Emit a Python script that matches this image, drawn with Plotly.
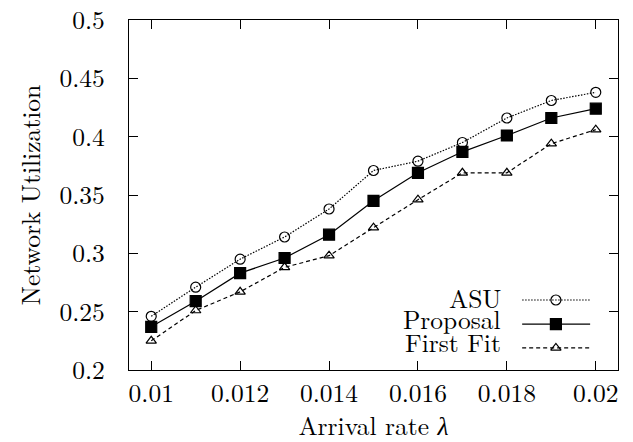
import plotly.graph_objects as go

# Arrival rate (x) and network utilization of each scheme
arrival_rate = [0.010, 0.011, 0.012, 0.013, 0.014, 0.015, 0.016, 0.017, 0.018, 0.019, 0.020]
asu = [0.246, 0.271, 0.295, 0.314, 0.338, 0.371, 0.379, 0.395, 0.416, 0.431, 0.438]
proposal = [0.237, 0.259, 0.283, 0.296, 0.316, 0.345, 0.369, 0.387, 0.401, 0.416, 0.424]
first_fit = [0.225, 0.251, 0.267, 0.288, 0.298, 0.322, 0.346, 0.369, 0.369, 0.394, 0.406]

x_ticks = [0.010, 0.012, 0.014, 0.016, 0.018, 0.020]
x_tick_labels = ["0.01", "0.012", "0.014", "0.016", "0.018", "0.02"]
y_ticks = [0.20, 0.25, 0.30, 0.35, 0.40, 0.45, 0.50]
y_tick_labels = ["0.2", "0.25", "0.3", "0.35", "0.4", "0.45", "0.5"]

series_names = ["ASU", "Proposal", "First Fit"]

FONT = "Latin Modern Roman"
FS = 25.5

styles = [
    dict(dash="1.5px,1.5px", symbol="circle-open", size=10),
    dict(dash="solid", symbol="square", size=11),
    dict(dash="4px,3px", symbol="triangle-up-open", size=9),
]

fig = go.Figure()
for name, ys, st in zip(series_names, [asu, proposal, first_fit], styles):
    fig.add_trace(go.Scatter(
        x=arrival_rate, y=ys, mode="lines+markers", name=name,
        line=dict(color="black", width=1.2, dash=st["dash"]),
        marker=dict(symbol=st["symbol"], size=st["size"], color="black",
                    line=dict(color="black", width=1.2)),
        showlegend=False,
    ))

# Key samples drawn on an overlay axis spanning the plot area (0..1 both ways)
key_rows_y = [0.200, 0.131, 0.063]
key_line_x = [0.804, 0.943]
key_marker_x = 0.873
key_text_x = 0.765
key_text_y = [0.210, 0.150, 0.083]
for name, st, ky, ty in zip(series_names, styles, key_rows_y, key_text_y):
    fig.add_trace(go.Scatter(
        x=key_line_x, y=[ky, ky], mode="lines", xaxis="x2", yaxis="y2",
        line=dict(color="black", width=1.2, dash=st["dash"]), showlegend=False,
        hoverinfo="skip",
    ))
    fig.add_trace(go.Scatter(
        x=[key_marker_x], y=[ky], mode="markers", xaxis="x2", yaxis="y2",
        marker=dict(symbol=st["symbol"], size=st["size"], color="black",
                    line=dict(color="black", width=1.2)),
        showlegend=False, hoverinfo="skip",
    ))
    fig.add_annotation(
        x=key_text_x, y=ty, xref="x2", yref="y2", text=name, showarrow=False,
        xanchor="right", yanchor="middle", font=dict(family=FONT, size=FS, color="black"),
    )

axis_common = dict(
    showline=True, linecolor="black", linewidth=1.2, mirror="ticks",
    ticks="inside", ticklen=9, tickwidth=1, tickcolor="black",
    showgrid=False, zeroline=False, automargin=False,
    ticklabeloverflow="allow",
    tickfont=dict(family=FONT, size=FS, color="black"),
)

fig.update_layout(
    width=633, height=442,
    margin=dict(l=129, r=15, t=20, b=72),
    paper_bgcolor="white", plot_bgcolor="white",
    font=dict(family=FONT, size=FS, color="black"),
    xaxis=dict(
        range=[0.0095, 0.0205], tickvals=x_ticks, ticktext=x_tick_labels,
        title=dict(text="Arrival rate <i>λ</i>", font=dict(family=FONT, size=FS), standoff=0),
        ticklabelstandoff=0,
        **axis_common,
    ),
    yaxis=dict(
        range=[0.2, 0.5], tickvals=y_ticks, ticktext=y_tick_labels,
        title=dict(text="Network Utilization", font=dict(family=FONT, size=FS), standoff=11),
        ticklabelstandoff=18,
        **axis_common,
    ),
    xaxis2=dict(overlaying="x", range=[0, 1], visible=False, fixedrange=True),
    yaxis2=dict(overlaying="y", range=[0, 1], visible=False, fixedrange=True),
)

fig.write_html("out.html")
